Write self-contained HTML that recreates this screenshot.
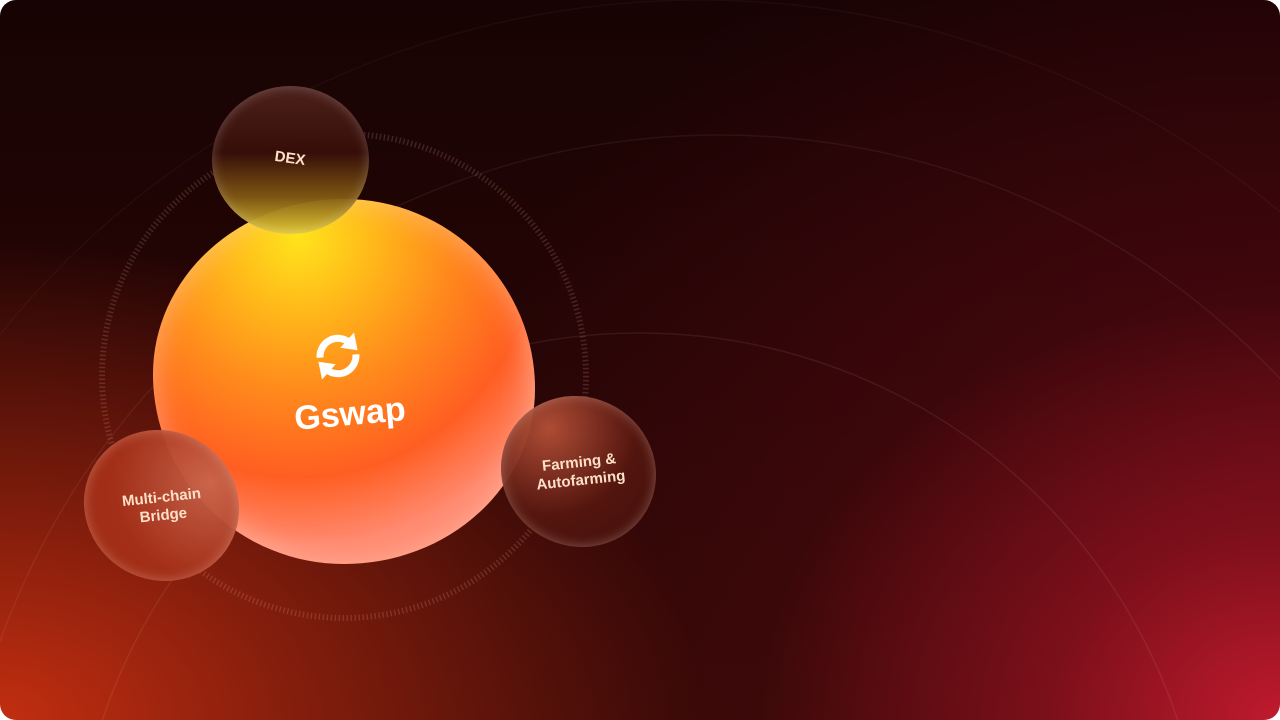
<!DOCTYPE html>
<html><head><style>
html,body{margin:0;padding:0;background:#fff;width:1280px;height:720px;overflow:hidden;}
.wrap{position:relative;width:1280px;height:720px;border-radius:16px;overflow:hidden;
background:
radial-gradient(ellipse 520px 420px at 1280px 720px,#c01a2e 0%,rgba(160,20,35,0.6) 45%,rgba(100,10,20,0) 100%),
radial-gradient(ellipse 700px 480px at 0px 720px,#c22e10 0%,rgba(170,40,15,0.7) 40%,rgba(80,15,5,0) 100%),
radial-gradient(ellipse 800px 600px at 1280px 450px,rgba(100,10,22,0.6) 0%,rgba(60,5,10,0) 100%),
linear-gradient(180deg,#170303 0%,#260505 50%,#360907 100%);
font-family:"Liberation Sans",sans-serif;}
.blob{position:absolute;border-radius:50%;}
.t{position:absolute;color:#fde0c8;font-weight:bold;text-align:center;}
</style></head><body><div class="wrap">
<svg width="1280" height="720" style="position:absolute;left:0;top:0">
<circle cx="700" cy="900" r="900" fill="none" stroke="rgba(255,255,255,0.035)" stroke-width="1.5"/>
<circle cx="720" cy="900" r="765" fill="none" stroke="rgba(255,255,255,0.06)" stroke-width="1.5"/>
<circle cx="640" cy="900" r="567" fill="none" stroke="rgba(255,255,255,0.07)" stroke-width="1.5"/>
<circle cx="344" cy="376" r="242" fill="none" stroke="rgba(255,200,180,0.16)" stroke-width="6" stroke-dasharray="1.5 2.5"/>
</svg>
<div class="blob" style="left:153px;top:199px;width:382px;height:365px;border-radius:50% 50% 50% 50% / 48% 52% 48% 52%;
background:radial-gradient(ellipse 80% 85% at 38% 10%,#ffe41c 0%,#ffb81a 25%,#ff8a1c 50%,#ff5e22 78%,#ff8a70 100%);
box-shadow:inset 0 0 30px rgba(255,220,200,0.5);"></div>
<div class="blob" style="left:212px;top:86px;width:157px;height:148px;
background:linear-gradient(180deg,rgba(80,35,30,0.95) 0%,rgba(55,14,8,0.95) 45%,rgba(130,90,20,0.95) 75%,rgba(220,195,50,0.95) 100%);
box-shadow:inset 0 0 12px rgba(255,255,255,0.25);"></div>
<div class="blob" style="left:83px;top:431px;width:157px;height:149px;transform:rotate(30deg);
background:radial-gradient(circle at 70% 20%,rgba(200,100,75,0.95),rgba(165,48,25,0.95) 60%,rgba(160,45,20,0.95));
box-shadow:inset 0 0 12px rgba(255,220,200,0.35);"></div>
<div class="blob" style="left:500px;top:397px;width:157px;height:149px;transform:rotate(30deg);
background:radial-gradient(circle at 20% 35%,rgba(180,80,55,0.95),rgba(85,22,15,0.95) 55%,rgba(65,15,12,0.95));
box-shadow:inset 0 0 12px rgba(255,220,200,0.35);"></div>
<div class="t" style="left:250px;top:150px;width:80px;font-size:15px;transform:rotate(8deg)">DEX</div>
<div class="t" style="left:100px;top:489px;width:125px;font-size:15px;line-height:18px;transform:rotate(-6deg)">Multi-chain<br>Bridge</div>
<div class="t" style="left:515px;top:454px;width:130px;font-size:15px;line-height:18px;transform:rotate(-6deg)">Farming &amp;<br>Autofarming</div>
<svg width="60" height="60" viewBox="0 0 60 60" style="position:absolute;left:308px;top:326px;transform:rotate(-5deg)">
<path d="M12 30 A18 18 0 0 1 44 19" fill="none" stroke="#fff" stroke-width="7"/>
<path d="M48 8 L50 26 L33 22 Z" fill="#fff"/>
<path d="M48 30 A18 18 0 0 1 16 41" fill="none" stroke="#fff" stroke-width="7"/>
<path d="M12 52 L10 34 L27 38 Z" fill="#fff"/>
</svg>
<div class="t" style="left:280px;top:395px;width:140px;font-size:34px;color:#fff;transform:rotate(-5deg)">Gswap</div>
</div></body></html>
